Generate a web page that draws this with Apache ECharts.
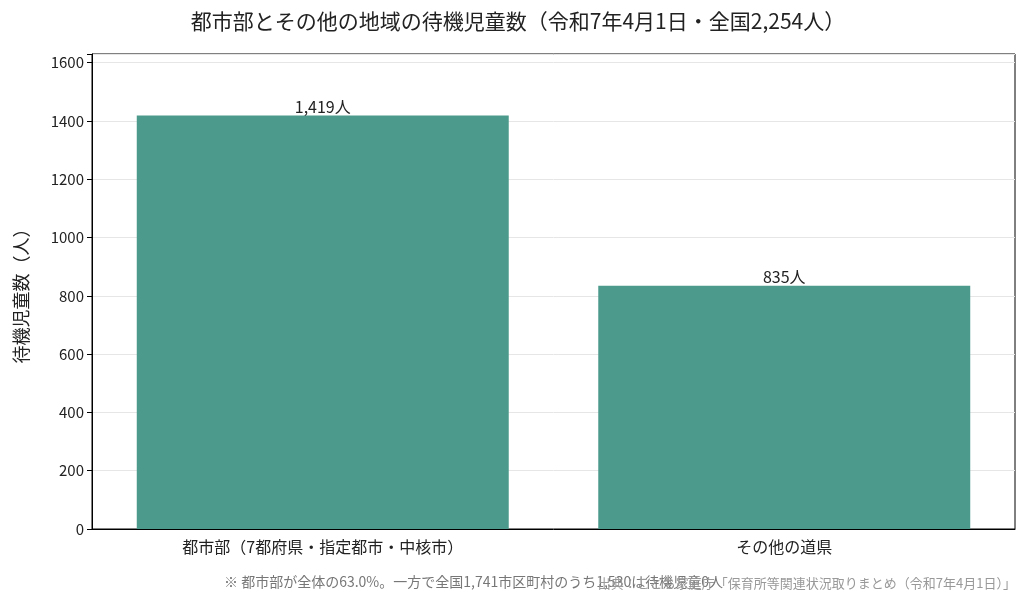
<!DOCTYPE html><html><head><meta charset="utf-8"><script src="https://cdn.jsdelivr.net/npm/echarts@6/dist/echarts.min.js"></script></head><body style="margin:0"><div id="c" style="width:1036px;height:606px"></div><script>
const categories=["都市部（7都府県・指定都市・中核市）","その他の道県"];
const values=[1419,835];
const c=echarts.init(document.getElementById('c'));
const F='"Noto Sans CJK JP"';
c.setOption({textStyle:{fontFamily:F},animation:false,
title:{text:"都市部とその他の地域の待機児童数（令和7年4月1日・全国2,254人）",left:'center',top:6,textStyle:{fontSize:21,fontWeight:'normal',color:'#222',fontFamily:F}},
graphic:[{type:'text',left:224,top:575,style:{text:"※ 都市部が全体の63.0%。一方で全国1,741市区町村のうち1,530は待機児童0人",fontSize:14,fill:'#777',fontFamily:F}},
{type:'text',right:20,top:577,style:{text:"出典：こども家庭庁「保育所等関連状況取りまとめ（令和7年4月1日）」",fontSize:13,fill:'#999',fontFamily:F}}],
grid:{left:92,right:21,top:54,bottom:77,show:true,borderColor:'#000',borderWidth:1},
xAxis:{type:'category',data:categories,axisLine:{lineStyle:{color:'#000'}},axisTick:{alignWithLabel:true,lineStyle:{color:'#000'}},axisLabel:{fontSize:16,color:'#222',margin:10}},
yAxis:{type:'value',min:0,max:1630,interval:200,name:'待機児童数（人）',nameLocation:'middle',nameGap:62,nameTextStyle:{fontSize:18,color:'#222'},axisLine:{show:true,lineStyle:{color:'#000'}},axisTick:{show:true,lineStyle:{color:'#000'}},splitLine:{lineStyle:{color:'#e6e6e6'}},axisLabel:{fontSize:15,color:'#222',formatter:v=>v%200?'':v}},
series:[{type:'bar',data:values,barWidth:'80.6%',itemStyle:{color:'#4c9a8c'},label:{show:true,position:'top',distance:1,fontSize:16,color:'#222',formatter:p=>p.value.toLocaleString()+'人'}}]});
</script></body></html>
